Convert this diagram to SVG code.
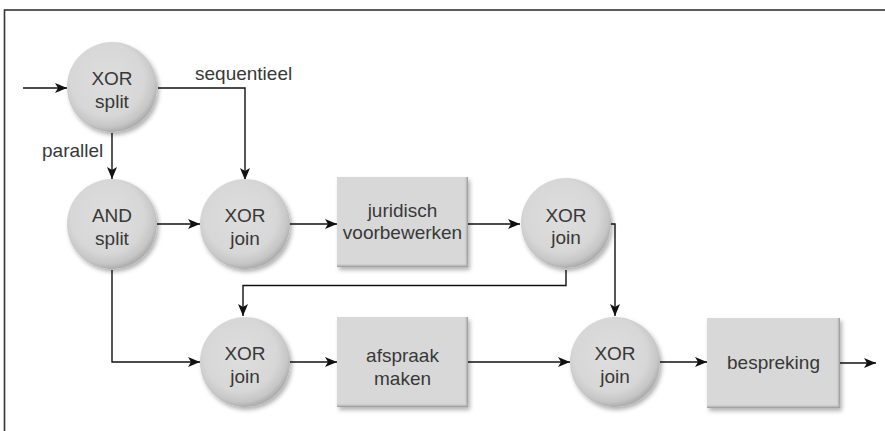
<svg xmlns="http://www.w3.org/2000/svg" width="885" height="431" viewBox="0 0 885 431">
  <defs>
    <radialGradient id="ballFill" cx="0.45" cy="0.42" r="0.58">
      <stop offset="0" stop-color="#dedede"/>
      <stop offset="0.7" stop-color="#d7d7d7"/>
      <stop offset="0.9" stop-color="#c6c6c6"/>
      <stop offset="1" stop-color="#adadad"/>
    </radialGradient>
    <linearGradient id="edgeR" x1="0" y1="0" x2="1" y2="0">
      <stop offset="0" stop-color="#d6d6d6" stop-opacity="0"/>
      <stop offset="1" stop-color="#939393"/>
    </linearGradient>
    <linearGradient id="edgeB" x1="0" y1="0" x2="0" y2="1">
      <stop offset="0" stop-color="#d6d6d6" stop-opacity="0"/>
      <stop offset="1" stop-color="#939393"/>
    </linearGradient>
    <filter id="shadow" x="-20%" y="-20%" width="150%" height="150%">
      <feDropShadow dx="2" dy="3" stdDeviation="2" flood-color="#000" flood-opacity="0.3"/>
    </filter>
    <marker id="arrow" viewBox="0 0 12 10" refX="12" refY="5" markerWidth="12" markerHeight="10" markerUnits="userSpaceOnUse" orient="auto">
      <path d="M0,0 L12,5 L0,10 L3,5 Z" fill="#111"/>
    </marker>
  </defs>
  <style>
    text { font-family: "Liberation Sans", Arial, sans-serif; font-size: 19px; fill: #383838; text-anchor: middle; }
    .lbl { text-anchor: start; }
    .ball { fill: url(#ballFill); filter: url(#shadow); }
    .box { fill: #d8d8d8; filter: url(#shadow); }
    .edge-r { fill: url(#edgeR); }
    .edge-b { fill: url(#edgeB); }
    .wire { fill: none; stroke: #111; stroke-width: 1.4; marker-end: url(#arrow); }
    .frame { fill: none; stroke: #333; stroke-width: 1.6; }
  </style>

  <rect width="885" height="431" fill="#fff"/>
  <rect class="frame" x="4.5" y="10" width="900" height="500"/>

  <g id="connectors">
    <path class="wire" d="M23,88 H67"/>
    <path class="wire" d="M158,88 H245 V180"/>
    <path class="wire" d="M112,133 V179"/>
    <path class="wire" d="M157,224 H200"/>
    <path class="wire" d="M290,224 H337"/>
    <path class="wire" d="M468,224 H520"/>
    <path class="wire" d="M610,224 H615 V316"/>
    <path class="wire" d="M566,270 V285.5 H243 V316"/>
    <path class="wire" d="M112,270 V362 H200"/>
    <path class="wire" d="M290,362 H337"/>
    <path class="wire" d="M468,362 H570"/>
    <path class="wire" d="M660,362 H707"/>
    <path class="wire" d="M840,363 H876"/>
    <text class="lbl" x="195" y="80">sequentieel</text>
    <text class="lbl" x="42" y="157">parallel</text>
  </g>

  <g id="xor-split">
    <circle class="ball" cx="112" cy="87" r="45"/>
    <text x="112" y="85">XOR</text>
    <text x="112" y="108">split</text>
  </g>

  <g id="and-split">
    <circle class="ball" cx="112" cy="224" r="45"/>
    <text x="112" y="222">AND</text>
    <text x="112" y="245">split</text>
  </g>

  <g id="xor-join-1">
    <circle class="ball" cx="245" cy="224" r="45"/>
    <text x="245" y="222">XOR</text>
    <text x="245" y="245">join</text>
  </g>

  <g id="juridisch-voorbewerken">
    <rect class="box" x="337" y="177" width="131" height="90"/>
    <rect class="edge-r" x="464" y="177" width="4" height="90"/>
    <rect class="edge-b" x="337" y="263" width="131" height="4"/>
    <text x="402.5" y="217">juridisch</text>
    <text x="402.5" y="239">voorbewerken</text>
  </g>

  <g id="xor-join-2">
    <circle class="ball" cx="566" cy="223" r="45"/>
    <text x="566" y="222">XOR</text>
    <text x="566" y="244">join</text>
  </g>

  <g id="xor-join-4">
    <circle class="ball" cx="245" cy="362" r="45"/>
    <text x="245" y="360">XOR</text>
    <text x="245" y="383">join</text>
  </g>

  <g id="afspraak-maken">
    <rect class="box" x="337" y="317" width="131" height="90"/>
    <rect class="edge-r" x="464" y="317" width="4" height="90"/>
    <rect class="edge-b" x="337" y="403" width="131" height="4"/>
    <text x="402.5" y="362">afspraak</text>
    <text x="402.5" y="385">maken</text>
  </g>

  <g id="xor-join-3">
    <circle class="ball" cx="615" cy="362" r="45"/>
    <text x="615" y="360">XOR</text>
    <text x="615" y="383">join</text>
  </g>

  <g id="bespreking">
    <rect class="box" x="707" y="318" width="133" height="90"/>
    <rect class="edge-r" x="836" y="318" width="4" height="90"/>
    <rect class="edge-b" x="707" y="404" width="133" height="4"/>
    <text x="773.5" y="369">bespreking</text>
  </g>
</svg>
